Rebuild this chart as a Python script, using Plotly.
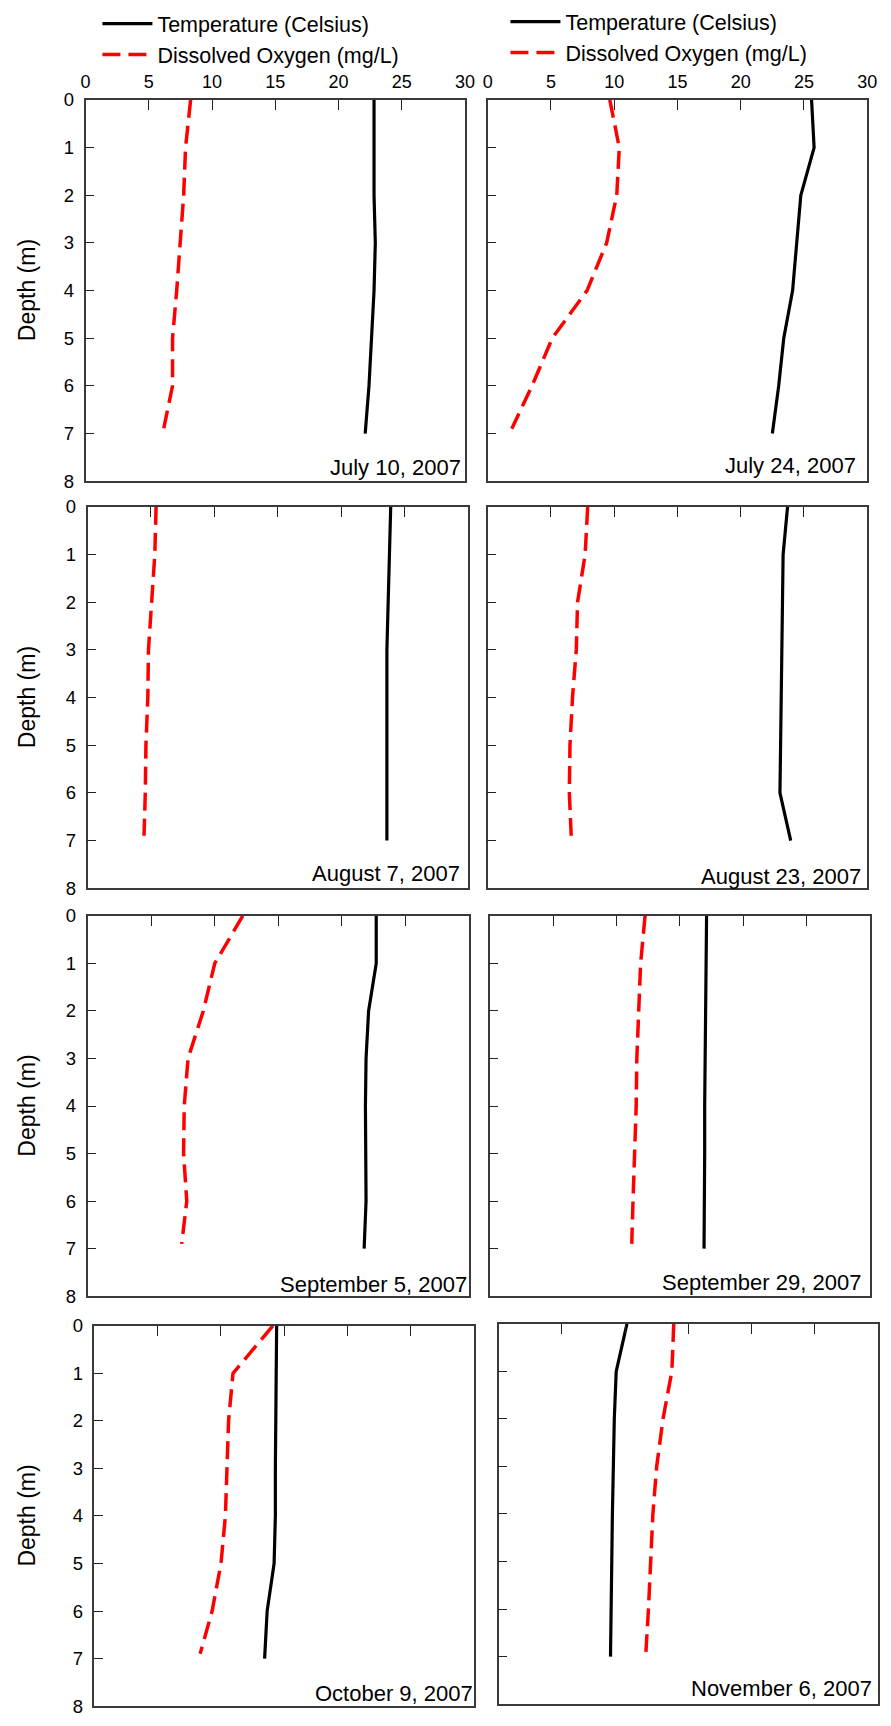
import plotly.graph_objects as go

W, H = 891, 1726

# ---------------- data ----------------
dates = ["July 10, 2007", "July 24, 2007", "August 7, 2007", "August 23, 2007",
         "September 5, 2007", "September 29, 2007", "October 9, 2007", "November 6, 2007"]

temp_depth = [0, 1, 2, 3, 4, 5, 6, 7]
do_depth = [0, 1, 2, 3, 4, 5, 6, 6.9]

temp_jul10 = [22.8, 22.8, 22.8, 22.9, 22.8, 22.6, 22.4, 22.1]
do_jul10 = [8.3, 7.9, 7.75, 7.5, 7.2, 6.87, 6.87, 6.17]

temp_jul24 = [25.6, 25.8, 24.75, 24.4, 24.1, 23.4, 23.0, 22.5]
do_jul24 = [9.65, 10.4, 10.2, 9.4, 7.85, 5.1, 3.5, 1.9]

temp_aug7 = [23.9, 23.8, 23.7, 23.6, 23.6, 23.6, 23.6, 23.6]
do_aug7 = [5.4, 5.3, 5.05, 4.8, 4.75, 4.6, 4.55, 4.45]

temp_aug23 = [23.7, 23.35, 23.3, 23.25, 23.2, 23.15, 23.1, 23.95]
do_aug23 = [7.9, 7.7, 7.1, 7.0, 6.7, 6.5, 6.45, 6.6]

temp_sep5 = [22.7, 22.7, 22.1, 21.9, 21.85, 21.85, 21.9, 21.75]
do_sep5 = [12.2, 10.0, 9.1, 7.9, 7.6, 7.55, 7.8, 7.4]

temp_sep29 = [17.1, 17.05, 17.0, 17.0, 16.95, 16.95, 16.9, 16.9]
do_sep29 = [12.25, 11.9, 11.75, 11.6, 11.55, 11.4, 11.3, 11.2]

temp_oct9 = [14.4, 14.35, 14.35, 14.3, 14.3, 14.2, 13.65, 13.45]
do_oct9 = [14.1, 10.95, 10.6, 10.45, 10.35, 10.0, 9.3, 8.35]

temp_nov6 = [10.15, 9.3, 9.15, 9.05, 9.0, 8.95, 8.9, 8.85]
do_nov6 = [13.85, 13.7, 13.0, 12.5, 12.2, 12.05, 11.85, 11.65]

temps = [temp_jul10, temp_jul24, temp_aug7, temp_aug23, temp_sep5, temp_sep29, temp_oct9, temp_nov6]
dos = [do_jul10, do_jul24, do_aug7, do_aug23, do_sep5, do_sep29, do_oct9, do_nov6]

x_ticks = [0, 5, 10, 15, 20, 25, 30]
y_ticks = [0, 1, 2, 3, 4, 5, 6, 7, 8]

temp_name = "Temperature (Celsius)"
do_name = "Dissolved Oxygen (mg/L)"

# ---------------- layout geometry (pixels) ----------------
# (left, right, top, bottom)
rects = [(82, 468, 90, 476), (491, 877, 90, 476),
         (84, 471, 502, 888), (491, 877, 502, 888),
         (84, 472, 916, 1301), (493, 880, 916, 1301),
         (91, 477, 1331, 1716), (502, 888, 1329, 1714)]
# date label: right end x, center y
date_pos = [(466, 462), (868, 460), (465, 873), (873, 876),
            (472, 1289), (873, 1287), (478, 1703), (884, 1698)]


def px(x):
    return x / W


def py(y):
    return 1 - y / H


FONT = "Liberation Sans, Arial, sans-serif"
FRAME = "#3a3a3a"

fig = go.Figure()
layout = {}
annotations = []

for i in range(8):
    l, r, t, b = rects[i]
    suf = "" if i == 0 else str(i + 1)
    xa, ya = "x" + suf, "y" + suf
    legend_ref = None
    if i == 0:
        legend_ref = "legend"
    elif i == 1:
        legend_ref = "legend2"
    show = legend_ref is not None

    fig.add_trace(go.Scatter(
        x=temps[i], y=temp_depth, mode="lines", name=temp_name,
        line=dict(color="black", width=3.2),
        xaxis=xa, yaxis=ya, showlegend=show,
        legend=legend_ref if show else "legend"))
    fig.add_trace(go.Scatter(
        x=dos[i], y=do_depth, mode="lines", name=do_name,
        line=dict(color="#ff0000", width=3.5, dash="18px,8px"),
        xaxis=xa, yaxis=ya, showlegend=show,
        legend=legend_ref if show else "legend"))

    top_row = i < 2
    left_col = i % 2 == 0
    layout["xaxis" + suf] = dict(
        domain=[px(l), px(r)], anchor=ya, side="top", range=[0, 30],
        tickvals=x_ticks, ticks="inside", ticklen=10, tickwidth=1.2, tickcolor="#222",
        showticklabels=top_row, ticklabelstandoff=3,
        tickfont=dict(size=18, color="black", family=FONT),
        showline=True, linecolor=FRAME, linewidth=1.5, mirror=True,
        showgrid=False, zeroline=False, fixedrange=True)
    layout["yaxis" + suf] = dict(
        domain=[py(b), py(t)], anchor=xa, range=[8, 0],
        tickvals=y_ticks, ticks="inside", ticklen=9, tickwidth=1.2, tickcolor="#222",
        showticklabels=left_col, ticklabelstandoff=6,
        tickfont=dict(size=18.5, color="black", family=FONT),
        showline=True, linecolor=FRAME, linewidth=1.5, mirror=True,
        showgrid=False, zeroline=False, fixedrange=True)

    dx, dy = date_pos[i]
    annotations.append(dict(
        text=dates[i], xref="paper", yref="paper", x=px(dx), y=py(dy),
        xanchor="right", yanchor="middle", showarrow=False,
        font=dict(size=22, color="black", family=FONT)))

    if left_col:
        annotations.append(dict(
            text="Depth (m)", xref="paper", yref="paper", x=px(22), y=py((t + b) / 2),
            xanchor="center", yanchor="middle", textangle=-90, showarrow=False,
            font=dict(size=23, color="black", family=FONT)))

fig.update_layout(
    width=W, height=H,
    margin=dict(l=0, r=0, t=0, b=0),
    paper_bgcolor="white", plot_bgcolor="white",
    font=dict(family=FONT, color="black"),
    annotations=annotations,
    legend=dict(x=px(94), y=py(-8), xanchor="left", yanchor="top",
                font=dict(size=21.5, family=FONT, color="black"),
                bgcolor="rgba(0,0,0,0)", borderwidth=0, itemwidth=50,
                tracegroupgap=0),
    legend2=dict(x=px(509), y=py(-10), xanchor="left", yanchor="top",
                 font=dict(size=21.5, family=FONT, color="black"),
                 bgcolor="rgba(0,0,0,0)", borderwidth=0, itemwidth=50,
                 tracegroupgap=0),
    **layout,
)

fig.write_html("out.html")
